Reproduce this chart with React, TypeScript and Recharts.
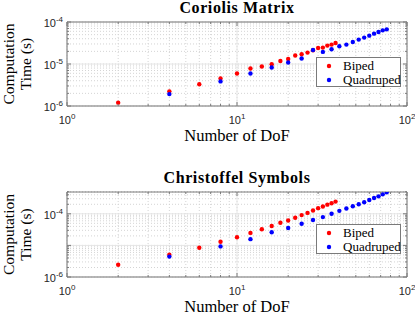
import { CartesianGrid, Label, Legend, ReferenceLine, Scatter, ScatterChart, XAxis, YAxis } from "recharts";

const bipedDof = [2, 4, 6, 8, 10, 12, 14, 16, 18, 20, 22, 24, 26, 28, 30, 32, 34, 36, 38];
const quadrupedDof = [4, 8, 12, 16, 20, 24, 28, 32, 36, 40, 44, 48, 52, 56, 60, 64, 68, 72, 76];

const bipedCoriolis = [
  1.2e-6, 2.23e-6, 3.3e-6, 4.5e-6, 5.95e-6, 7.8e-6, 8.7e-6, 9.9e-6, 1.18e-5, 1.32e-5,
  1.59e-5, 1.71e-5, 1.87e-5, 2.12e-5, 2.41e-5, 2.46e-5, 2.74e-5, 2.9e-5, 3.16e-5,
];
const quadrupedCoriolis = [
  1.92e-6, 3.85e-6, 5.95e-6, 8.26e-6, 1.09e-5, 1.35e-5, 2.16e-5, 1.94e-5, 2.24e-5, 2.64e-5,
  2.9e-5, 3.34e-5, 3.81e-5, 4.25e-5, 4.73e-5, 5.28e-5, 5.76e-5, 6.32e-5, 6.68e-5,
];
const bipedChristoffel = [
  2.43e-6, 5.1e-6, 8.46e-6, 1.3e-5, 1.82e-5, 2.49e-5, 3.23e-5, 4.12e-5, 5.23e-5, 6.17e-5,
  7.5e-5, 9.1e-5, 1.07e-4, 1.27e-4, 1.51e-4, 1.7e-4, 1.95e-4, 2.16e-4, 2.43e-4,
];
const quadrupedChristoffel = [
  4.43e-6, 9.3e-6, 1.58e-5, 2.61e-5, 3.57e-5, 4.87e-5, 6.34e-5, 7.87e-5, 1.0e-4, 1.24e-4,
  1.47e-4, 1.74e-4, 2.01e-4, 2.32e-4, 2.74e-4, 3.16e-4, 3.57e-4, 4.13e-4, 4.77e-4,
];

const dofTicks = [1, 2, 3, 4, 5, 6, 7, 8, 9, 10, 20, 30, 40, 50, 60, 70, 80, 90, 100];
const dofDecades = [1, 10, 100];

const coriolisTicks = [
  1e-6, 2e-6, 3e-6, 4e-6, 5e-6, 6e-6, 7e-6, 8e-6, 9e-6,
  1e-5, 2e-5, 3e-5, 4e-5, 5e-5, 6e-5, 7e-5, 8e-5, 9e-5, 1e-4,
];
const coriolisLabels = [1e-6, 1e-5, 1e-4];
const christoffelTicks = [
  1e-6, 2e-6, 3e-6, 4e-6, 5e-6, 6e-6, 7e-6, 8e-6, 9e-6,
  1e-5, 2e-5, 3e-5, 4e-5, 5e-5, 6e-5, 7e-5, 8e-5, 9e-5,
  1e-4, 2e-4, 3e-4, 4e-4, 5e-4,
];
const christoffelLabels = [1e-6, 1e-4];
const timeDecades = [1e-6, 1e-5, 1e-4];

const AXIS = "#7a7a7a";
const TICK_TEXT = "#262626";
const SERIF = '"Liberation Serif", "Times New Roman", serif';
const SANS = '"Liberation Sans", Arial, sans-serif';

const isDecade = (v: number) => Math.abs(Math.log10(v) - Math.round(Math.log10(v))) < 1e-6;
const expOf = (v: number) => String(Math.round(Math.log10(v)));
const inList = (list: number[], v: number) => list.some((d) => Math.abs(d - v) / d < 1e-6);

const toPoints = (dof: number[], t: number[]) => dof.map((d, i) => ({ dof: d, t: t[i] }));

function BottomTick(props: any) {
  const { x, y, payload } = props;
  const major = isDecade(payload.value);
  return (
    <g>
      <line x1={x} x2={x} y1={y} y2={y - (major ? 4 : 2)} stroke={AXIS} />
      {major && (
        <text x={x} y={y + 18} textAnchor="middle" fontFamily={SANS} fontSize={11} fill={TICK_TEXT}>
          10
          <tspan dy={-5} fontSize={8}>
            {expOf(payload.value)}
          </tspan>
        </text>
      )}
    </g>
  );
}

function TopTick(props: any) {
  const { x, y, payload } = props;
  const major = isDecade(payload.value);
  return <line x1={x} x2={x} y1={y} y2={y + (major ? 4 : 2)} stroke={AXIS} />;
}

function RightTick(props: any) {
  const { x, y, payload } = props;
  const major = isDecade(payload.value);
  return <line x1={x} x2={x - (major ? 4 : 2)} y1={y} y2={y} stroke={AXIS} />;
}

function makeLeftTick(labels: number[]) {
  return (props: any) => {
    const { x, y, payload } = props;
    const major = isDecade(payload.value);
    return (
      <g>
        <line x1={x} x2={x + (major ? 4 : 2)} y1={y} y2={y} stroke={AXIS} />
        {inList(labels, payload.value) && (
          <text x={x - 4} y={y + 5} textAnchor="end" fontFamily={SANS} fontSize={11} fill={TICK_TEXT}>
            10
            <tspan dy={-5} fontSize={8}>
              {expOf(payload.value)}
            </tspan>
          </text>
        )}
      </g>
    );
  };
}

function LegendBox(props: any) {
  const items = props.payload || [];
  return (
    <div
      style={{
        width: 85,
        height: 30,
        boxSizing: "border-box",
        border: `1px solid ${AXIS}`,
        background: "#fff",
        position: "relative",
        fontFamily: SERIF,
        fontSize: 13,
        color: "#000",
      }}
    >
      {items.map((it: any, i: number) => (
        <div key={it.value} style={{ position: "absolute", left: 0, top: 0.5 + i * 14, height: 14, lineHeight: "14px", whiteSpace: "nowrap" }}>
          <svg width={26} height={14} style={{ position: "absolute", left: 0, top: 0 }}>
            <circle cx={12} cy={7} r={2.2} fill={it.color} />
          </svg>
          <span style={{ position: "absolute", left: 26 }}>{it.value}</span>
        </div>
      ))}
    </div>
  );
}

interface PanelProps {
  title: string;
  biped: number[];
  quadruped: number[];
  yTicks: number[];
  yLabels: number[];
  yDomain: [number, number];
  height: number;
  plotTop: number;
  marginBottom: number;
  legendTop: number;
}

function Panel({ title, biped, quadruped, yTicks, yLabels, yDomain, height, plotTop, marginBottom, legendTop }: PanelProps) {
  const dot = (color: string) => (p: any) => <circle cx={p.cx} cy={p.cy} r={2.2} fill={color} />;
  const topAxisHeight = 20;
  return (
    <ScatterChart
      width={415}
      height={height}
      margin={{ top: plotTop - topAxisHeight, right: 3, bottom: marginBottom, left: 27 }}
    >
      <CartesianGrid stroke="#d4d4d4" strokeDasharray="1 2" />
      {dofDecades.map((v) => (
        <ReferenceLine key={`x${v}`} x={v} stroke="#e6e6e6" />
      ))}
      {timeDecades.map((v) => (
        <ReferenceLine key={`y${v}`} y={v} stroke="#e6e6e6" />
      ))}
      <XAxis
        dataKey="dof"
        type="number"
        scale="log"
        domain={[1, 100]}
        allowDataOverflow
        ticks={dofTicks}
        interval={0}
        tickSize={0}
        tickMargin={0}
        tickLine={false}
        height={30}
        stroke={AXIS}
        tick={(p: any) => <BottomTick {...p} />}
      >
        <Label
          content={(p: any) => (
            <text
              x={p.viewBox.x + p.viewBox.width / 2}
              y={p.viewBox.y + 34.5}
              textAnchor="middle"
              fontFamily={SERIF}
              fontSize={16.5}
              fill="#000"
            >
              Number of DoF
            </text>
          )}
        />
      </XAxis>
      <XAxis
        xAxisId="top"
        orientation="top"
        dataKey="dof"
        type="number"
        scale="log"
        domain={[1, 100]}
        allowDataOverflow
        ticks={dofTicks}
        interval={0}
        tickSize={0}
        tickMargin={0}
        tickLine={false}
        height={topAxisHeight}
        stroke={AXIS}
        tick={(p: any) => <TopTick {...p} />}
      >
        <Label
          content={(p: any) => (
            <text
              x={p.viewBox.x + p.viewBox.width / 2}
              y={p.viewBox.y + p.viewBox.height - 9.5}
              textAnchor="middle"
              fontFamily={SERIF}
              fontWeight="bold"
              fontSize={16}
              letterSpacing={0.6}
              fill="#000"
            >
              {title}
            </text>
          )}
        />
      </XAxis>
      <YAxis
        dataKey="t"
        type="number"
        scale="log"
        domain={yDomain}
        allowDataOverflow
        ticks={yTicks}
        interval={0}
        tickSize={0}
        tickMargin={0}
        tickLine={false}
        width={40}
        stroke={AXIS}
        tick={makeLeftTick(yLabels)}
      >
        <Label
          content={(p: any) => {
            const cy = p.viewBox.y + p.viewBox.height / 2;
            const x1 = p.viewBox.x - 13.5;
            const x2 = p.viewBox.x + 4;
            return (
              <g fontFamily={SERIF} fontSize={15.5} fill="#000">
                <text x={x1} y={cy} textAnchor="middle" transform={`rotate(-90, ${x1}, ${cy})`}>
                  Computation
                </text>
                <text x={x2} y={cy} textAnchor="middle" transform={`rotate(-90, ${x2}, ${cy})`}>
                  Time (s)
                </text>
              </g>
            );
          }}
        />
      </YAxis>
      <YAxis
        yAxisId="right"
        orientation="right"
        dataKey="t"
        type="number"
        scale="log"
        domain={yDomain}
        allowDataOverflow
        ticks={yTicks}
        interval={0}
        tickSize={0}
        tickMargin={0}
        tickLine={false}
        width={5}
        stroke={AXIS}
        tick={(p: any) => <RightTick {...p} />}
      />
      <Legend
        layout="horizontal"
        verticalAlign="middle"
        align="center"
        wrapperStyle={{ left: 316, top: legendTop, width: 85, height: 30 }}
        content={(p: any) => <LegendBox {...p} />}
      />
      <Scatter
        name="Biped"
        data={toPoints(bipedDof, biped)}
        fill="#ff0000"
        shape={dot("#ff0000")}
        isAnimationActive={false}
      />
      <Scatter
        name="Quadruped"
        data={toPoints(quadrupedDof, quadruped)}
        fill="#0000ff"
        shape={dot("#0000ff")}
        isAnimationActive={false}
      />
    </ScatterChart>
  );
}

export default function App() {
  return (
    <div style={{ position: "absolute", left: 0, top: 0, width: 415, height: 315, background: "#fff" }}>
      <div style={{ position: "absolute", left: 0, top: 0 }}>
        <Panel
          title="Coriolis Matrix"
          biped={bipedCoriolis}
          quadruped={quadrupedCoriolis}
          yTicks={coriolisTicks}
          yLabels={coriolisLabels}
          yDomain={[1e-6, 1e-4]}
          height={157}
          plotTop={22}
          marginBottom={21}
          legendTop={57}
        />
      </div>
      <div style={{ position: "absolute", left: 0, top: 157 }}>
        <Panel
          title="Christoffel Symbols"
          biped={bipedChristoffel}
          quadruped={quadrupedChristoffel}
          yTicks={christoffelTicks}
          yLabels={christoffelLabels}
          yDomain={[1e-6, 4.9e-4]}
          height={158}
          plotTop={35}
          marginBottom={8}
          legendTop={67}
        />
      </div>
    </div>
  );
}
